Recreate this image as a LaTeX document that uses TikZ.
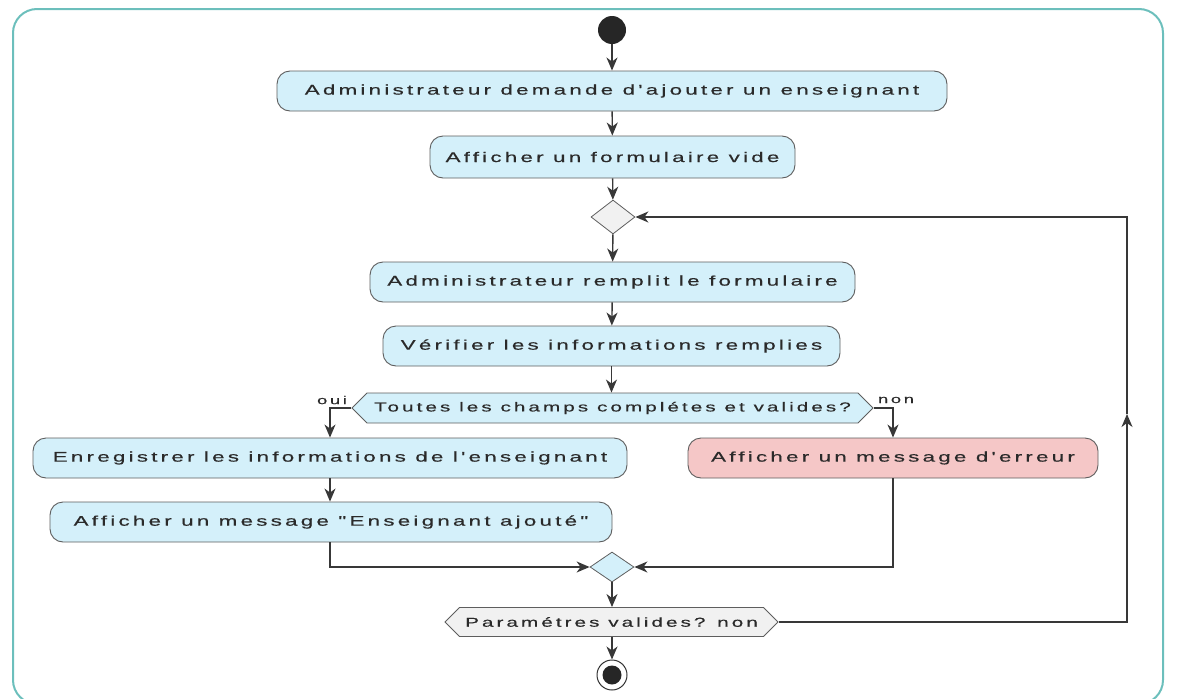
\documentclass[tikz,border=0pt]{standalone}
\usepackage{fontspec}
\setmainfont{Liberation Sans}[Ligatures=TeXOff,FakeStretch=1.6,LetterSpace=23,FakeBold=0.4]
\usetikzlibrary{arrows.meta,shapes.geometric,shapes.symbols}
\definecolor{frameteal}{HTML}{6CBFBC}
\definecolor{actblue}{HTML}{D4F0FA}
\definecolor{actred}{HTML}{F5C7C7}
\definecolor{decgray}{HTML}{F1F1F1}
\definecolor{edgegray}{HTML}{5E5E5E}
\definecolor{linegray}{HTML}{383838}
\definecolor{inkdark}{HTML}{2A2A2A}
\tikzset{
  activity/.style={draw=edgegray, line width=0.9pt, fill=actblue, rounded corners=13pt,
    minimum height=40pt, inner sep=0pt, font=\fontsize{14}{16}\selectfont, text=inkdark},
  errorbox/.style={activity, fill=actred},
  question/.style={draw=edgegray, line width=0.9pt, fill=actblue, signal, signal to=west and east,
    signal pointer angle=90, minimum height=30pt, inner sep=0pt,
    font=\fontsize{13}{15}\selectfont, text=inkdark},
  branch/.style={draw=edgegray, line width=0.8pt, diamond, inner sep=0pt},
  flow/.style={draw=linegray, line width=1.4pt, -{Stealth[length=13pt,width=11pt,inset=4pt]}},
  guard/.style={font=\fontsize{11.5}{13}\selectfont, text=inkdark, inner sep=0pt}
}
\begin{document}
\begin{tikzpicture}[x=1pt,y=-1pt]
\useasboundingbox (0,0) rectangle (1184,699);
% outer frame
\draw[frameteal, line width=2pt, rounded corners=24pt] (13,9) rectangle (1163,704);

% start and end
\node[circle, fill=black!85, minimum size=28pt, inner sep=0pt] (start) at (612,30) {};
\node[circle, draw=black!80, line width=1pt, fill=white, minimum size=30pt, inner sep=0pt] (finish) at (612,675) {};
\node[circle, fill=black!85, minimum size=19pt, inner sep=0pt] (finishdot) at (612,675) {};

% activities
\node[activity, minimum width=670pt] (ask) at (612,91) {Administrateur demande d'ajouter un enseignant};
\node[activity, minimum width=365pt, minimum height=42pt] (blank) at (612.5,157) {Afficher un formulaire vide};
\node[branch, fill=decgray, minimum width=44pt, minimum height=34pt] (loop) at (613,217) {};
\node[activity, minimum width=485pt] (fill) at (612.5,282) {Administrateur remplit le formulaire};
\node[activity, minimum width=457pt] (check) at (611.5,346) {Vérifier les informations remplies};
\node[question, minimum width=521pt] (valid) at (612.5,408) {Toutes les champs complétes et valides?};
\node[activity, minimum width=594pt] (save) at (330,458) {Enregistrer les informations de l'enseignant};
\node[errorbox, minimum width=410pt] (error) at (893,458) {Afficher un message d'erreur};
\node[activity, minimum width=562pt] (added) at (331,522) {Afficher un message "Enseignant ajouté"};
\node[branch, fill=actblue, minimum width=44pt, minimum height=30pt] (merge) at (612,567) {};
\node[question, fill=decgray, minimum width=333pt, minimum height=29pt] (again) at (611.5,622) {Paramétres valides? non};

% guards
\node[guard] (yes) at (332,400) {oui};
\node[guard] (no) at (896,400) {non};

% connectors
\draw[flow] (start) -- (ask);
\draw[flow] (ask) -- (blank);
\draw[flow] (blank) -- (loop);
\draw[flow] (loop) -- (fill);
\draw[flow] (fill) -- (check);
\draw[flow] (check.south) -- (check.south |- valid.north);
\draw[flow] (valid.west) -| (save.north);
\draw[flow] (valid.east) -| (error.north);
\draw[flow] (save) -- (save.south |- added.north);
\draw[flow] (added.south -| save.south) |- (merge.west);
\draw[flow] (error.south) |- (merge.east);
\draw[flow] (merge) -- (merge.south |- again.north);
\draw[flow] (again.south -| merge.south) -- (finish);
\coordinate (up) at (1127,414);
\draw[flow] (again.east) -| (up);
\draw[flow] (up) |- (loop.east);
\end{tikzpicture}
\end{document}
